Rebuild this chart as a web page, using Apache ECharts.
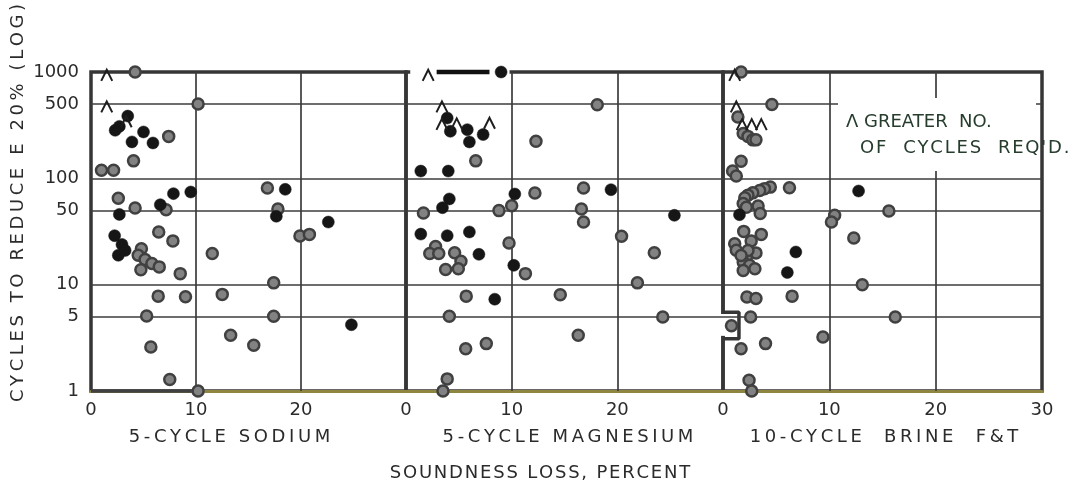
<!DOCTYPE html>
<html><head><meta charset="utf-8">
<script src="https://cdn.jsdelivr.net/npm/echarts@6/dist/echarts.min.js"></script>
<style>html,body{margin:0;padding:0;background:#fff}#c{width:1074px;height:488px}</style>
</head><body><div id="c"></div>
<script>
// ---------- data (soundness loss %, cycles to reduce E 20%) ----------
const panelNames = ['5-CYCLE SODIUM', '5-CYCLE MAGNESIUM', '10-CYCLE  BRINE  F&T'];
const yTitle = 'CYCLES TO REDUCE E 20% (LOG)';
const xTitle = 'SOUNDNESS LOSS, PERCENT';
const legendLines = ['Λ GREATER  NO.', 'OF  CYCLES  REQ\'D.'];
const yTickValues = [1, 5, 10, 50, 100, 500, 1000];
const gridLevels = [5, 10, 50, 100, 500];
const gridX = [10, 20];

const sodiumGray = [[4.2,1000],[10.2,500],[7.4,248],[4.05,146],[1.0,119],[2.15,119],[2.6,65],[4.2,52.6],[7.15,50.7],[6.45,31.3],[7.8,25.8],[4.8,21.8],[4.5,18.9],[5.15,17.2],[5.8,15.8],[6.5,14.7],[4.75,13.8],[8.5,12.7],[11.55,19.6],[6.4,7.8],[9.0,7.7],[12.5,8.1],[5.3,5.07],[5.7,2.59],[7.5,1.28],[13.3,3.34],[15.5,2.69],[16.8,81],[17.8,51.5],[19.9,28.7],[20.8,29.7],[17.4,10.4],[17.4,5.04],[10.2,1]];
const sodiumBlack = [[2.3,283],[2.7,308],[3.5,385],[5.0,273],[3.9,220],[5.9,215],[2.7,45.8],[7.85,71.8],[9.5,74.4],[6.6,56.5],[2.25,28.9],[2.95,23.9],[3.25,21],[2.6,18.9],[18.5,78.8],[17.65,44],[22.6,38.8],[24.8,4.2]];
const sodiumCaret = [[1.5,930],[1.5,470],[3.35,340]];

const magGray = [[18.1,493],[6.6,146],[12.3,223],[1.65,47.2],[8.8,49.7],[10.0,55.3],[12.2,72.8],[16.8,81],[16.6,51.5],[16.8,38.8],[20.4,28.5],[23.5,20],[21.9,10.4],[24.3,4.97],[16.3,3.34],[14.6,8.05],[11.3,12.7],[9.75,24.6],[2.8,22.9],[2.25,19.6],[3.1,19.6],[4.6,20],[5.2,16.6],[3.75,13.9],[4.95,14.1],[5.7,7.8],[4.1,5.04],[5.65,2.5],[7.6,2.79],[3.9,1.3],[3.5,1]];
const magBlack = [[9.0,1000],[3.9,369],[4.2,277],[5.8,287],[6.0,220],[7.3,258],[1.4,117],[4.0,117],[4.1,64],[3.45,53],[10.3,71.2],[19.4,78.2],[25.4,44.9],[10.2,15.2],[1.4,29.9],[3.9,28.9],[6.0,31.3],[6.9,19.3],[8.4,7.3]];
const magCaret = [[2.1,930],[3.4,470],[3.4,322],[4.8,325],[7.9,330]];
const magTopBar = [[2.9,1000],[7.9,1000]];
const magTopGap = [[0.4,1000],[9.8,1000]];

const brineGray = [[1.7,1000],[4.6,495],[1.4,378],[1.9,264],[2.35,248],[2.8,230],[3.1,230],[1.7,145],[0.9,117],[1.25,105],[6.25,81.7],[4.45,82.7],[3.9,80],[3.45,77],[2.8,73],[2.35,69.5],[2.05,65.5],[1.9,58],[2.2,53.5],[3.3,55],[3.5,46.6],[15.6,49.3],[10.5,44.9],[10.2,38.8],[12.3,27.5],[1.95,31.7],[3.6,29.7],[2.65,25.8],[1.1,24.3],[1.25,21.1],[3.1,19.9],[2.2,18.2],[1.9,16.3],[2.5,15.2],[3.0,14.1],[1.9,13.6],[2.35,21],[1.7,18.8],[13.1,10],[2.25,7.66],[3.1,7.4],[6.5,7.8],[2.6,4.97],[16.2,4.97],[0.8,4.1],[9.4,3.22],[4.0,2.79],[1.7,2.5],[2.45,1.26],[2.7,1]];
const brineBlack = [[12.75,76],[1.55,45.5],[6.85,20.3],[6.05,13]];
const brineCaret = [[1.1,930],[1.25,470],[1.8,320],[2.7,320],[3.6,320]];
const brineStep = [[0,5.5],[1.5,5.5],[1.5,3.1],[0,3.1]];
const brineStepGap = [[0,5.3],[0,3.3]];
const sodiumDarkBase = [[0,1],[9.6,1]];

// ---------- chart ----------
const FONT = 'DejaVu Sans';
const INK = '#2b2b2b';
const LINE = '#3c3c3c';
const spaced = (s, sep) => s.split('').join(sep || '\u2009');

const grids = [
  {left: 91, top: 72, width: 315, height: 319},
  {left: 406, top: 72, width: 317, height: 319},
  {left: 723, top: 72, width: 319, height: 319}
].map(g => Object.assign(g, {show: true, borderColor: '#363636', borderWidth: 3.5, backgroundColor: 'transparent'}));

const namePad = [[0, 38, 0, 0], [0, 0, 0, 7], [0, 0, 0, 3]];
const xAxes = [0, 1, 2].map(i => ({
  type: 'value', gridIndex: i, min: 0, max: 30, interval: 10,
  axisLine: {show: true, lineStyle: {color: '#8e8540', width: 3}},
  axisTick: {show: false}, splitLine: {show: false},
  axisLabel: {
    margin: 10, color: INK, fontFamily: FONT, fontSize: 18,
    formatter: v => (i < 2 && v === 30) ? '' : String(v)
  },
  name: spaced(panelNames[i]), nameLocation: 'middle', nameGap: 37,
  nameTextStyle: {color: INK, fontFamily: FONT, fontSize: 18, padding: namePad[i]}
}));
const yAxes = [0, 1, 2].map(i => ({
  type: 'log', logBase: 10, gridIndex: i, min: 1, max: 1000,
  axisLine: {show: false}, axisTick: {show: false}, splitLine: {show: false},
  axisLabel: i === 0 ? {show: true, customValues: yTickValues, formatter: v => String(v),
    color: INK, fontFamily: FONT, fontSize: 18, margin: 12} : {show: false}
}));

const dotGray = {color: '#828282', borderColor: '#404040', borderWidth: 2.5, opacity: 1};
const dotBlack = {color: '#161616', borderColor: '#161616', borderWidth: 0.5, opacity: 1};
const caretPath = 'path://M0,20 L11,0 L22,20';

function panelSeries(i, gray, black, caret) {
  return [
    {type: 'scatter', xAxisIndex: i, yAxisIndex: i, data: gray, symbol: 'circle', symbolSize: 11, clip: false, itemStyle: dotGray, z: 5,
     markLine: {silent: true, symbol: ['none', 'none'], label: {show: false}, animation: false,
       lineStyle: {color: LINE, width: 1.7, type: 'solid', opacity: 1},
       data: gridLevels.map(v => ({yAxis: v})).concat(gridX.map(v => ({xAxis: v})))}},
    {type: 'scatter', xAxisIndex: i, yAxisIndex: i, data: black, symbol: 'circle', symbolSize: 12, clip: false, itemStyle: dotBlack, z: 6},
    {type: 'scatter', xAxisIndex: i, yAxisIndex: i, data: caret, symbol: caretPath, symbolSize: [11, 11], clip: false,
     itemStyle: {color: 'rgba(0,0,0,0)', borderColor: '#1e1e1e', borderWidth: 2, opacity: 1}, z: 7}
  ];
}
function lineSeries(i, data, color, width, z) {
  return {type: 'line', xAxisIndex: i, yAxisIndex: i, data: data, symbol: 'none', clip: false, silent: true,
    lineStyle: {color: color, width: width}, z: z, animation: false};
}

const series = [].concat(
  [lineSeries(0, sodiumDarkBase, '#404040', 3.5, 3)],
  [lineSeries(1, magTopGap, '#ffffff', 5, 3), lineSeries(1, magTopBar, '#111', 4.5, 4)],
  [lineSeries(2, brineStepGap, '#ffffff', 6, 3), lineSeries(2, brineStep, '#363636', 3.5, 4)],
  panelSeries(0, sodiumGray, sodiumBlack, sodiumCaret),
  panelSeries(1, magGray, magBlack, magCaret),
  panelSeries(2, brineGray, brineBlack, brineCaret)
);

const chart = echarts.init(document.getElementById('c'), null, {renderer: 'canvas'});
chart.setOption({
  animation: false,
  backgroundColor: '#ffffff',
  grid: grids, xAxis: xAxes, yAxis: yAxes, series: series,
  graphic: [
    {type: 'text', x: 18, y: 203, rotation: Math.PI / 2, z: 10,
     style: {text: spaced(yTitle), fill: INK, font: '18px "DejaVu Sans"', textAlign: 'center', textVerticalAlign: 'middle'}},
    {type: 'text', x: 540, y: 473, z: 10,
     style: {text: spaced(xTitle, '\u200A'), fill: INK, font: '18px "DejaVu Sans"', textAlign: 'center', textVerticalAlign: 'middle'}},
    {type: 'rect', shape: {x: 838, y: 98, width: 198, height: 73}, style: {fill: '#ffffff'}, z: 9},
    {type: 'text', x: 846, y: 122, z: 10,
     style: {text: legendLines[0], fill: '#263d2e', font: '18px "DejaVu Sans"', textAlign: 'left', textVerticalAlign: 'middle'}},
    {type: 'text', x: 860, y: 148, z: 10,
     style: {text: spaced(legendLines[1], '\u200A'), fill: '#263d2e', font: '18px "DejaVu Sans"', textAlign: 'left', textVerticalAlign: 'middle'}}
  ]
});
</script></body></html>
